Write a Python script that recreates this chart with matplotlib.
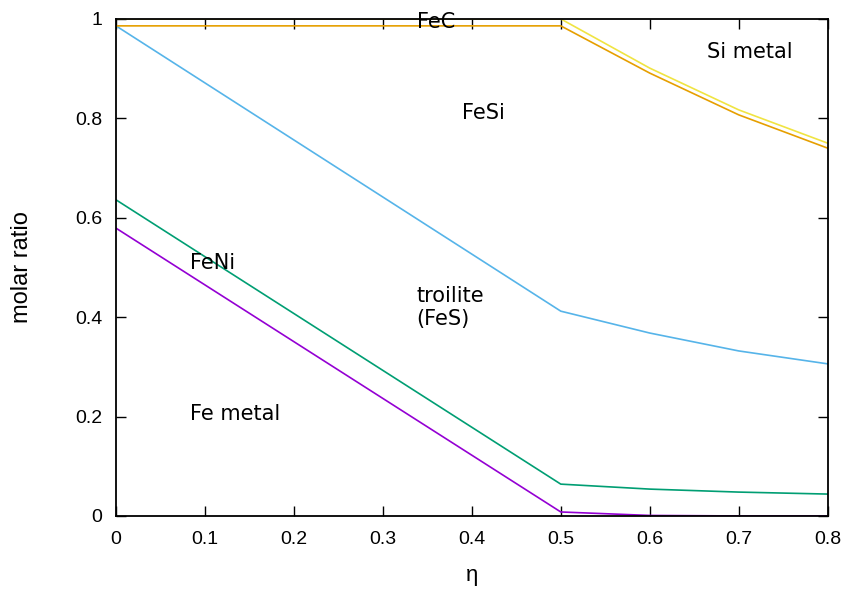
import matplotlib
matplotlib.use("Agg")
import matplotlib.pyplot as plt

# eta values where the boundaries bend
eta = [0.0, 0.5, 0.6, 0.7, 0.8]

fe_metal_top = [0.579, 0.008, 0.001, 0.0, 0.0]
feni_top = [0.636, 0.064, 0.054, 0.048, 0.044]
troilite_top = [0.986, 0.412, 0.368, 0.332, 0.306]
fesi_top = [0.986, 0.986, 0.891, 0.807, 0.740]
fec_top = [1.0, 1.0, 0.901, 0.817, 0.750]

region_labels = ["FeC", "Si metal", "FeSi", "FeNi", "troilite\n(FeS)", "Fe metal"]
label_x = [0.338, 0.664, 0.389, 0.083, 0.338, 0.083]
label_y = [0.994, 0.934, 0.811, 0.509, 0.42, 0.205]

plt.rcParams["font.family"] = "Liberation Sans"
plt.rcParams["font.size"] = 14

fig = plt.figure(figsize=(8.48, 5.91), dpi=100)
ax = fig.add_axes([0.1368, 0.127, 0.8392, 0.841])

ax.plot(eta, fe_metal_top, color="#9400d3", lw=1.2)
ax.plot(eta, feni_top, color="#009e73", lw=1.2)
ax.plot(eta, troilite_top, color="#56b4e9", lw=1.2)
ax.plot(eta, fesi_top, color="#e69f00", lw=1.2)
ax.plot(eta, fec_top, color="#f0e442", lw=1.2)

# region names use the gnuplot default look
for s, x, y in zip(region_labels, label_x, label_y):
    ax.text(x, y, s, ha="left", va="center", fontsize=15, family="DejaVu Sans", linespacing=1.2)

ax.set_xlim(0, 0.8)
ax.set_ylim(0, 1)
ax.set_xticks([0, 0.1, 0.2, 0.3, 0.4, 0.5, 0.6, 0.7, 0.8])
ax.set_xticklabels(["0", "0.1", "0.2", "0.3", "0.4", "0.5", "0.6", "0.7", "0.8"])
ax.set_yticks([0, 0.2, 0.4, 0.6, 0.8, 1])
ax.set_yticklabels(["0", "0.2", "0.4", "0.6", "0.8", "1"])
ax.tick_params(direction="in", top=True, right=True, length=7, width=1, labelsize=14)
ax.tick_params(axis="x", pad=11)
ax.tick_params(axis="y", pad=10)
for sp in ax.spines.values():
    sp.set_linewidth(1.3)

ax.set_xlabel("η", fontsize=16, labelpad=12)
ax.set_ylabel("molar ratio", fontsize=17, labelpad=30)

fig.savefig("out.png", dpi=100)
